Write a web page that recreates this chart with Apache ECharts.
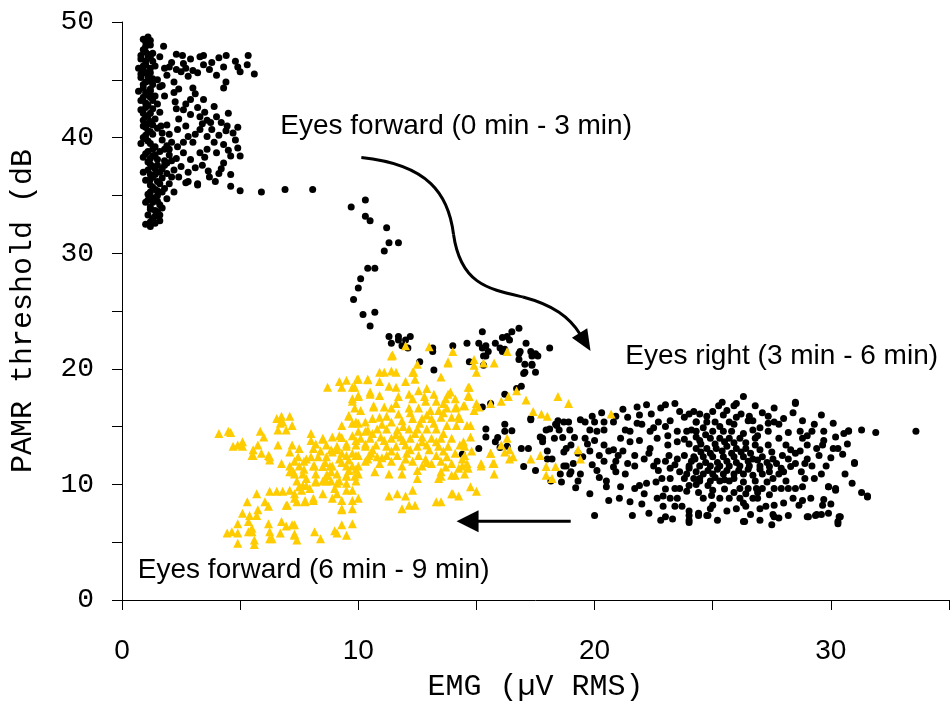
<!DOCTYPE html>
<html>
<head>
<meta charset="UTF-8">
<title>PAMR threshold vs EMG</title>
<script src="https://cdn.jsdelivr.net/npm/echarts@6/dist/echarts.min.js"></script>
</head>
<body style="margin:0">
<div id="chart" style="width:952px;height:707px"></div>
<script>
// eyes forward, 0-3 min (black dots, top left + trail down)
const forwardEarly = [
  [1.1,48.7],[1.0,48.3],[1.2,48.0],[0.9,47.6],[1.1,47.2],[0.8,46.8],[1.3,46.6],[1.0,46.3],[0.9,45.9],[1.2,45.6],
  [0.8,45.2],[1.1,44.9],[1.3,44.6],[0.9,44.3],[1.0,43.9],[1.2,43.5],[0.8,43.2],[1.1,42.8],[1.3,42.5],[0.9,42.1],
  [1.0,41.8],[1.2,41.4],[0.9,41.0],[1.1,40.6],[1.3,40.3],[1.0,39.9],[1.2,39.5],[1.4,39.2],[1.1,38.8],[1.3,38.4],
  [1.5,38.1],[1.2,37.7],[1.4,37.3],[1.6,37.0],[1.3,36.6],[1.5,36.2],[1.2,35.9],[1.4,35.5],[1.1,35.1],[1.3,34.8],
  [1.0,34.4],[1.2,34.0],[1.4,33.7],[1.1,33.3],[1.3,32.9],[1.0,32.5],[1.2,32.3],[1.5,35.0],[1.7,36.5],[1.8,38.0],
  [1.6,38.8],[1.9,39.3],[2.1,39.6],[1.7,39.8],[2.0,38.5],[2.2,37.2],[1.9,36.9],[2.3,38.2],[1.6,34.2],[1.8,35.6],
  [2.0,36.0],[1.5,33.6],[1.4,46.2],[1.5,45.0],[1.6,44.4],[1.4,43.6],[1.5,42.9],[1.6,42.2],[1.4,41.6],[1.5,40.8],
  [1.7,40.4],[0.7,44.0],[0.7,46.0],[0.8,39.5],[0.9,37.0],[1.0,36.3],[0.9,38.3],[1.0,47.9],[1.2,47.0],[1.1,45.3],
  [1.2,44.2],[1.0,43.0],[1.1,41.2],[1.0,40.2],[1.2,36.8],[1.1,34.6],[1.3,33.0],
  [0.9,48.5],[1.2,48.4],[1.0,47.4],[0.8,47.1],[1.3,47.3],[1.1,46.9],[1.0,46.6],[0.9,46.2],[1.2,46.0],[1.0,45.6],
  [0.8,45.5],[1.3,45.1],[1.0,44.8],[0.9,44.6],[1.2,44.0],[1.1,43.7],[0.9,43.5],[1.3,43.2],[1.0,42.6],[0.8,42.4],
  [1.2,42.1],[1.1,41.9],[0.9,41.5],[1.3,41.1],[1.0,40.9],[1.2,40.5],[0.9,40.0],[1.1,39.7],[1.3,39.0],[1.0,38.6],
  [1.2,38.2],[1.4,38.5],[1.1,37.9],[1.3,37.5],[1.5,37.6],[1.1,37.2],[1.4,36.8],[1.2,36.4],[1.6,36.0],[1.3,35.7],
  [1.5,35.4],[1.2,35.3],[1.3,34.4],[1.5,34.5],[1.2,33.8],[1.4,33.2],[1.2,32.7],[1.7,37.3],[1.9,37.8],[2.0,39.0],
  [1.8,39.0],[1.7,35.3],[1.6,33.3],[1.4,32.6],
  [1.76,47.9],[2.56,47.1],[3.45,47.1],[4.41,47.1],[5.34,47.1],[5.3,46.3],[5.0,45.7],[5.6,45.5],[4.3,46.1],[3.8,46.5],
  [3.45,46.3],[4.0,45.4],[4.4,44.8],[4.3,44.3],[2.8,45.3],[3.2,45.6],[2.5,45.7],[2.0,46.1],[1.6,47.0],[2.1,46.5],
  [1.8,46.0],[2.3,45.9],[2.7,46.0],[3.0,45.8],[1.9,45.4],[2.2,44.8],[1.7,44.5],[2.4,44.2],[1.8,43.6],
  [2.3,47.2],[2.9,46.8],[3.3,47.0],[3.7,45.9],[4.8,46.6],[4.1,46.9],[4.9,46.1],[2.6,46.4],
  [3.0,44.3],[2.9,43.3],[2.6,42.4],[3.2,42.6],[3.3,41.8],[3.6,41.5],[4.0,41.8],[4.2,41.3],[4.45,41.0],[4.7,40.4],
  [4.8,39.8],[4.9,39.1],[4.6,38.4],[4.6,36.8],[3.95,36.2],[3.2,36.0],[2.8,36.2],[3.65,37.1],[4.3,37.8],[2.9,38.1],
  [2.7,41.0],[2.35,40.7],[1.9,41.1],[1.65,41.0],[2.2,43.9],[2.25,43.1],[3.45,43.3],[3.75,41.3],[3.3,40.7],[2.8,40.1],
  [3.6,40.1],[3.9,39.6],[3.0,39.6],[3.3,38.7],[3.6,39.0],[4.0,38.7],[2.6,38.7],[2.35,39.2],[2.7,36.1],[3.2,35.9],
  [4.6,35.8],[5.0,35.4],[2.5,37.5],[2.1,38.0],[2.4,36.6],[3.4,37.6],[4.1,40.2],[3.1,40.3],[2.9,42.0],[3.5,42.2],
  [2.0,40.3],[1.8,37.6],[2.2,35.3],[1.9,34.7],[1.7,33.9],[1.6,32.8],[2.1,36.6],[2.6,39.6],[4.3,39.4],[4.5,42.1],
  [3.9,42.7],[2.7,42.9],[3.1,43.8],[3.4,41.2],[3.8,40.7],[4.4,40.6],[4.5,38.9],[3.5,38.3],[3.1,37.4],[2.8,37.0],
  [4.2,37.3],[3.7,36.6],[2.4,41.6],[2.3,42.5],[4.9,40.9],[5.0,38.4],[4.1,36.9],
  [5.9,35.3],[6.9,35.5],[8.07,35.5],[9.7,34.0],[10.3,34.6],[10.3,33.2],[10.5,32.8],[11.2,32.2],[11.3,30.9],[11.1,30.2],
  [11.7,30.9],[10.4,28.7],[10.7,28.7],[10.1,27.8],[10.0,27.0],[9.8,26.0],[10.2,24.7],[10.7,24.9],[10.5,23.7],[11.3,22.8],
  [11.7,22.8],[12.2,22.8],[11.4,22.2],[11.7,22.5],[12.0,22.5],[12.1,21.8],[12.6,20.6],[13.2,19.9],[13.15,21.8],[13.15,21.5],
  [14.0,22.0],[14.6,22.2],[15.25,23.2],[15.1,22.2],[15.25,21.8],[15.4,22.0],[15.5,21.5],[14.7,20.6],[15.3,21.1],[15.8,22.2],
  [16.0,21.8],[16.1,22.7],[16.3,22.8],[16.5,23.2],[16.8,23.5],[16.4,22.5],[16.1,21.5],[17.1,22.2],[16.8,21.3],[16.85,21.5],
  [16.8,20.8],[17.3,21.5],[17.35,21.1],[17.5,21.3],[17.6,21.1],[17.35,20.4],[17.35,20.3],[17.5,19.7],[17.0,19.6],[18.1,21.8],
  [15.3,20.3],[11.85,22.0],[15.4,21.1],[16.2,21.7],[17.05,20.4],[17.05,19.7],[16.9,18.5],[16.7,18.3],[16.2,17.8],[15.6,17.0],
  [15.25,16.7]
];

// eyes right, 3-6 min (black dots, right cluster)
const eyesRight = [
  [17.3,15.7],[16.2,15.2],[15.4,14.8],[15.4,14.1],[15.9,14.05],[16.5,14.65],[15.8,13.7],[16.3,13.3],[15.1,13.1],[14.4,12.6],
  [16.9,13.1],[17.2,13.1],[17.0,11.55],[17.5,11.2],[17.8,14.0],[18.1,14.8],[18.4,15.1],[18.45,15.5],[18.9,15.4],[18.0,12.2],
  [18.6,10.2],[18.15,10.3],[18.8,13.1],[18.7,11.6],[19.0,11.1],[16.0,13.2],[16.2,14.6],[17.7,14.1],[17.8,13.7],[18.3,14.0],
  [18.65,14.05],[19.15,14.05],[19.6,14.0],[20.0,13.8],[19.7,13.5],[20.4,13.4],[20.8,13.0],[21.5,13.7],[21.9,13.8],[22.35,14.6],
  [22.7,15.4],[23.2,15.5],[23.6,16.3],[24.0,16.1],[24.3,15.4],[23.5,14.6],[23.9,14.6],[24.3,14.6],[18.0,12.9],[18.2,12.2],
  [18.7,12.8],[19.0,13.4],[18.8,11.6],[19.1,11.8],[18.55,10.9],[18.95,10.9],[19.4,10.9],[19.3,10.3],[20.1,11.2],[20.5,10.3],
  [20.5,9.8],[20.9,11.1],[21.3,10.9],[21.1,9.8],[21.7,9.65],[21.9,9.9],[22.2,10.1],[22.1,9.2],[21.7,11.6],[21.7,12.5],
  [22.1,12.2],[22.65,12.0],[22.7,11.2],[22.85,10.5],[22.65,8.8],[22.9,9.0],[20.6,8.6],[21.05,8.8],[21.5,8.5],[21.6,7.3],
  [22.3,7.5],[22.9,8.1],[23.4,8.1],[23.7,8.1],[24.0,7.7],[24.0,6.9],[24.4,7.3],[23.4,9.65],[23.6,9.65],[23.9,9.4],
  [23.2,8.8],[23.5,8.8],[23.15,12.5],[23.5,12.2],[23.8,12.5],[24.25,12.2],[23.2,11.4],[23.6,11.1],[24.0,11.4],[23.2,10.5],
  [23.8,10.5],[24.2,10.5],[24.45,10.5],[23.5,13.7],[24.0,13.5],[23.1,13.4],[24.5,13.5],[22.35,13.1],[22.65,14.0],[23.1,14.2],
  [21.8,16.7],[22.2,16.9],[21.9,16.0],[22.4,16.1],[17.3,15.6],[17.95,14.7],[18.35,15.2],[18.7,15.4],[18.5,14.7],[18.95,14.7],
  [19.4,15.6],[19.6,15.4],[20.0,15.4],[20.4,15.4],[20.4,14.7],[20.8,15.4],[19.8,14.7],[20.1,14.6],[21.3,14.7],[21.5,14.6],
  [21.1,14.0],[20.0,7.3],[19.5,12.4],[20.2,12.5],[20.9,12.0],[19.9,11.7],[20.6,12.9],[21.2,12.9],[19.2,9.7],[19.8,9.2],
  [20.2,10.6],[24.4,7.5],[24.75,7.3],
  [26.3,17.6],[26.0,17.0],[25.9,16.8],[25.25,16.8],[25.6,16.4],[25.45,16.0],[25.0,16.3],[24.75,15.9],[24.45,16.1],[24.2,16.3],
  [26.2,16.1],[26.55,15.9],[26.7,15.5],[26.5,15.5],[27.1,16.2],[27.35,15.9],[27.35,15.3],[27.6,15.4],[28.5,17.0],[27.35,14.6],
  [26.8,13.4],[27.35,13.4],[27.8,14.0],[28.1,13.4],[28.5,12.7],[28.7,14.6],[29.0,14.2],[29.2,14.6],[28.8,14.0],[29.0,13.4],
  [29.4,13.1],[29.7,14.6],[29.7,13.8],[29.65,13.4],[30.1,15.3],[30.2,14.1],[30.55,14.4],[30.75,14.6],[30.1,13.1],[30.3,13.1],
  [31.9,14.5],[33.6,14.6],[31.0,11.8],[30.6,10.9],[29.8,11.6],[29.2,11.6],[28.9,11.8],[28.5,11.8],[28.3,11.55],[28.0,11.1],
  [28.75,11.1],[28.9,10.5],[28.8,9.8],[28.5,9.65],[28.2,9.65],[28.1,10.3],[27.9,9.65],[27.6,9.65],[28.4,8.8],[28.8,8.6],
  [29.15,8.8],[28.65,8.2],[29.65,8.2],[29.9,9.8],[30.2,9.65],[31.55,9.0],[29.05,7.2],[29.35,7.3],[29.6,7.4],[29.9,7.5],
  [30.35,7.2],[30.3,6.8],[27.55,7.4],[27.6,7.2],[27.5,6.5],[27.25,8.1],[27.6,8.2],[27.0,7.9],[26.4,8.1],[26.3,8.4],
  [26.7,8.8],[26.9,8.8],[26.15,8.8],[25.7,8.8],[25.3,8.8],[24.95,9.05],[24.6,8.8],[24.8,7.3],[24.0,7.3],
  [26.35,6.8],[24.9,7.9],[26.0,7.9],[26.15,9.65],[26.5,9.65],[26.85,9.65],[27.1,9.65],[25.7,10.3],[25.3,10.3],[24.9,10.3],
  [24.45,10.3],[24.0,9.9],[26.7,10.8],[26.3,10.9],[25.9,10.9],[25.45,10.9],[25.0,10.9],[24.6,10.9],[27.1,10.9],[27.55,10.5],
  [27.8,10.9],[27.4,11.55],[27.0,11.6],[26.55,11.6],[26.15,11.6],[25.7,11.6],[25.3,11.6],[24.9,11.6],[24.45,11.6],[24.0,11.6],
  [24.2,12.4],[24.6,12.4],[25.0,12.4],[25.45,12.4],[25.9,12.4],[26.3,12.4],[26.7,12.2],[27.1,12.4],[27.55,12.2],[27.95,12.5],
  [24.3,13.1],[24.75,13.1],[25.15,13.1],[25.6,13.3],[26.0,13.1],[26.4,13.1],[24.45,13.8],[24.9,14.0],[25.3,14.0],[25.7,14.0],
  [26.15,14.0],[25.0,14.6],[25.45,14.6],[25.8,14.6],[24.75,15.4],[25.1,15.4],[25.7,15.4],[24.1,14.7],[24.3,15.4],[26.7,14.7],
  [26.9,14.2],[26.3,6.8],[24.0,6.7],[29.0,7.2],[29.4,7.4],[30.4,7.2],[30.3,6.6],[31.55,8.9],
  [31.0,11.9],[29.9,9.8],[30.2,9.5],[30.75,14.65],[28.5,17.1],
  [19.9,15.9],[20.3,16.2],[20.9,15.9],[21.4,15.8],[21.2,16.5],[22.8,16.6],[23.0,16.9],[23.4,17.0],[22.0,15.2],[22.5,14.9],
  [21.8,15.3],[23.0,15.0],[23.8,15.8],[24.6,14.9],[25.3,15.0],[25.9,15.2],[26.3,14.4],[26.0,15.8],[27.0,14.9],[27.8,15.2],
  [28.2,14.5],[28.0,15.7],[27.6,16.6],[25.4,17.1],[26.8,16.8],
  [19.3,12.7],[19.8,12.9],[20.4,12.0],[20.8,11.5],[21.4,11.8],[21.0,12.5],[22.3,12.7],[22.5,11.6],[23.0,12.0],[23.4,11.7],
  [24.1,12.0],[24.7,11.9],[25.2,11.9],[25.6,12.0],[26.0,11.9],[26.5,12.0],[26.9,12.1],[27.3,11.9],[27.7,11.8],[28.2,12.2],
  [24.5,12.8],[24.9,12.7],[25.4,12.9],[25.8,12.7],[26.2,12.8],[26.6,12.7],[27.0,13.0],[27.5,12.8],[25.1,13.5],[25.5,13.7],
  [25.9,13.6],[26.4,13.6],[26.8,14.0],[24.3,14.1],[23.8,13.9],[24.7,14.3],
  [24.3,11.1],[24.8,11.2],[25.2,11.3],[25.6,11.2],[26.1,11.2],[26.5,11.3],[27.0,11.3],[27.4,11.1],[27.9,11.4],[23.9,10.9],
  [24.3,10.0],[24.8,9.9],[25.1,10.6],[25.5,10.4],[25.9,10.5],[26.3,10.2],[26.8,10.3],[27.3,10.2],[22.6,10.2],[23.0,9.6],
  [25.0,9.5],[25.5,9.6],[25.9,9.3],[26.4,9.2],[26.9,9.3],[27.4,9.1],[24.4,9.3],[22.0,8.3],[23.0,7.2],[25.0,8.2],
  [25.6,7.7],[26.6,7.4],[28.0,8.4],[27.8,7.1],
  [29.3,10.5],[29.6,10.9],[30.0,12.3],[29.5,12.5],[28.7,12.9],[28.3,13.0],[29.0,12.2],[30.5,12.6],[30.7,13.5],[31.3,14.7],
  [31.3,9.3],[30.9,10.1],[29.7,8.7],[30.0,8.3],[28.2,7.3],[27.0,6.9],[25.2,6.9],[23.3,7.0],[22.8,6.9],[28.8,15.5],
  [29.3,15.2],[29.6,16.0],[28.4,16.2]
];

// eyes forward again, 6-9 min (yellow triangles)
const forwardLate = [
  [4.1,14.4],[4.5,14.6],[4.6,14.5],[4.7,13.3],[4.9,13.4],[5.1,13.3],[5.1,13.7],[5.85,14.6],[6.0,14.1],[5.55,12.5],
  [5.9,12.7],[6.25,12.4],[5.75,13.4],[5.55,13.0],[5.5,12.5],[6.2,12.5],[6.25,12.1],
  [6.55,15.7],[6.75,15.9],[7.1,15.9],[6.7,15.3],[6.8,15.4],[7.2,15.1],[6.6,14.7],[6.95,14.7],[6.6,13.4],
  [7.2,13.4],[7.1,12.8],[7.5,13.1],[7.45,12.4],[6.75,11.8],[7.1,11.6],[7.25,11.1],[7.1,11.1],
  [8.0,14.4],[8.0,13.8],[8.5,14.0],[8.5,13.9],[8.2,13.5],[8.65,13.4],[8.1,13.1],[9.1,13.3],[8.85,13.0],[9.1,13.0],
  [9.5,13.3],[9.3,14.05],[8.0,12.4],[8.3,12.4],[8.65,12.4],[7.7,12.0],[8.15,11.6],[8.5,11.55],[8.9,11.6],[8.85,11.1],
  [9.1,10.9],[9.5,11.6],[9.75,11.6],[9.6,11.2],[10.0,11.6],[10.0,10.9],[9.85,10.7],[9.5,10.7],[9.2,10.3],[8.85,10.3],
  [8.5,10.3],[8.2,10.3],[7.8,10.5],[7.65,9.9],[7.4,10.3],[7.3,9.2],[7.6,9.5],[7.95,9.65],[8.1,8.8],[7.75,8.6],
  [7.4,8.5],[7.0,8.2],[6.8,9.4],[6.55,9.4],[6.25,9.4],[6.05,8.5],[6.2,8.1],[5.7,9.2],[5.3,8.5],[5.75,7.8],
  [5.1,7.5],[5.4,7.3],[5.7,7.3],[4.9,6.6],[5.35,6.8],[6.2,6.6],[5.5,6.2],[4.45,5.8],[4.65,5.9],[4.9,5.8],
  [5.35,5.9],[5.5,5.9],[4.9,4.9],[5.6,5.2],[5.6,4.8],[6.35,5.3],[6.25,5.9],[6.7,5.8],[6.25,5.3],[6.75,6.8],
  [6.95,6.4],[7.3,6.5],[7.2,6.5],[7.3,5.6],[7.4,5.2],[7.3,5.7],[8.15,5.9],[8.4,5.3],[9.0,6.0],[9.1,5.8],
  [9.3,6.5],[9.75,6.6],[9.5,5.6],[9.3,7.9],[9.75,7.9],[9.3,7.8],[10.0,8.8],[9.5,9.5],[9.75,9.5],[9.1,9.2],
  [8.9,8.8],[8.5,9.2],[9.0,9.65],[9.3,8.6],[9.75,8.6],[8.1,8.6],[7.75,8.5],[7.3,8.8],[6.95,8.2],[7.1,9.5],
  [7.5,9.8],[7.8,9.9],[8.2,10.2],[8.65,10.3],[9.1,10.1],[9.5,10.1],[9.9,10.3],[7.3,10.9],[7.65,10.9],[8.2,10.9],
  [8.65,10.8],[9.5,10.8],[7.5,11.6],[7.8,12.2],[8.1,11.6],[8.8,11.6],[9.2,12.2],[9.5,12.5],[9.9,12.5],[10.4,12.2],
  [10.55,12.7],[10.3,13.5],[9.9,13.8],[10.3,14.6],
  [11.3,9.0],[11.65,9.2],[12.0,9.0],[12.3,9.5],[11.85,7.9],[12.15,8.2],[12.4,8.2],[13.3,8.5],[13.5,8.5],[14.0,9.2],
  [14.25,9.0],[14.75,9.8],[15.0,9.4],[13.95,9.2],
  [8.7,18.4],[9.2,18.9],[9.5,19.0],[9.3,18.4],[9.75,18.4],[10.0,19.1],[10.4,19.1],[10.9,19.7],[11.1,19.7],[11.4,19.8],
  [11.6,19.7],[11.4,21.1],[10.9,18.9],[11.3,18.5],[11.6,18.4],[12.0,18.9],[12.35,19.7],[12.4,19.1],[12.5,20.4],[13.0,21.9],
  [13.8,20.6],[13.5,19.3],[9.75,17.4],[10.0,17.7],[10.5,18.0],[10.9,17.7],[9.85,16.6],[10.1,16.4],[9.6,15.9],[9.75,15.3],
  [10.0,15.3],[10.3,15.4],[10.6,15.7],[10.65,16.7],[11.1,16.7],[11.4,16.6],[11.7,17.6],[12.15,17.8],[12.3,17.4],[12.55,18.1],
  [12.9,18.3],[13.2,17.8],[12.85,17.2],[13.3,17.2],[13.7,17.4],[13.9,18.0],[14.1,17.4],[14.45,16.8],[14.7,18.4],[14.7,17.6],
  [15.1,16.7],[14.1,16.6],[13.75,16.6],[13.4,16.4],[13.05,16.4],[12.55,16.6],[12.15,16.6],[11.7,16.1],[11.2,15.9],[10.9,15.8],
  [11.4,15.4],[11.85,15.5],[12.3,15.7],[12.7,15.7],[13.1,15.7],[13.5,15.8],[13.95,15.8],[14.25,15.9],[14.6,15.1],[14.15,15.1],
  [13.75,15.1],[13.3,14.8],[12.9,14.8],[12.5,14.8],[12.15,14.8],[11.65,14.7],[11.2,14.8],[10.8,14.8],[10.4,14.7],[10.0,14.6],
  [9.75,14.2],[10.1,14.0],[10.5,14.0],[10.95,14.1],[11.4,14.0],[11.8,14.1],[12.2,14.0],[12.7,14.1],[13.1,14.0],[13.5,14.0],
  [13.95,14.0],[14.45,13.7],[14.75,14.1],[14.3,13.4],[13.8,13.3],[13.4,13.3],[12.9,13.4],[12.5,13.3],[12.0,13.4],[11.6,13.3],
  [11.2,13.3],[10.75,13.4],[10.3,13.3],[9.9,13.4],[9.5,13.5],[9.2,14.2],[8.9,14.1],[9.3,15.1],[9.3,12.7],[9.75,12.7],
  [10.0,12.5],[10.45,12.5],[10.8,12.4],[11.2,12.5],[11.65,12.5],[12.05,12.7],[12.55,12.5],[12.85,12.2],[13.3,12.5],[13.75,12.4],
  [14.1,12.7],[14.5,12.5],[14.8,12.9],[10.9,11.8],[11.4,12.0],[11.85,11.6],[12.3,12.0],[12.7,11.6],[13.1,11.8],[13.5,12.0],
  [13.95,11.8],[14.4,11.6],[10.7,11.1],[11.3,10.9],[11.85,10.9],[12.5,11.2],[13.5,11.1],[14.1,10.8],[12.5,10.5],[13.5,10.7],
  [14.65,11.4],[15.2,11.8],[15.7,11.8],[15.6,12.7],[9.9,15.4],[9.6,15.95],[9.95,19.1],[10.4,19.05],[9.85,18.4],[9.75,17.2],
  [10.0,17.6],[10.5,17.8],[10.65,16.8],
  [11.45,21.2],[12.0,22.0],[14.0,21.5],[16.3,21.5],[13.8,20.5],[14.9,20.8],[14.9,20.3],[15.3,20.5],[15.75,20.5],[15.0,19.7],
  [12.3,19.7],[14.65,18.4],[14.65,17.7],[15.0,17.0],[15.6,17.0],[16.05,17.2],[16.35,17.6],[16.7,18.1],[17.1,17.3],[18.45,17.6],
  [18.9,17.0],[17.4,16.3],[17.75,16.1],[18.0,15.9],[13.8,17.8],[14.15,16.7],[14.5,16.8],[14.9,16.4],[14.3,15.7],[14.75,15.1],
  [14.5,13.3],[14.4,12.2],[14.6,11.8],[14.25,11.4],[13.95,10.8],[14.5,10.9],[13.4,10.5],[16.3,14.0],[16.05,13.4],[16.4,13.0],
  [16.2,12.8],[15.6,12.7],[16.55,12.4],[16.4,12.2],[17.3,12.2],[17.7,12.5],[17.95,11.55],[18.35,11.55],[17.95,10.8],[18.2,10.5],
  [19.3,13.0],[19.4,12.2],[15.75,11.8],[15.75,10.9],[15.2,11.6],[20.7,16.1],
  [11.0,15.2],[11.9,15.0],[12.6,15.3],[13.2,15.3],[13.6,14.4],[12.4,14.4],[11.6,14.3],[10.6,14.4],[11.1,13.8],[11.9,13.8],
  [12.7,13.7],[13.3,13.7],[10.6,13.0],[11.4,12.9],[12.2,13.0],[13.0,13.0],[13.6,12.9],[10.3,12.0],[11.0,12.3],[12.0,12.2],
  [12.9,11.9],[13.7,11.5],[12.2,16.2],[12.9,16.0],[13.6,16.2],[11.6,17.0],[12.8,17.6],[13.6,17.0],[8.9,12.8],[8.4,12.9],
  [8.6,11.9],[9.3,11.9],[9.6,12.1],[8.7,10.8],[9.9,11.3],[7.7,11.3],[7.3,12.0]
];

const xLabels = [0, 10, 20, 30];
const yLabels = [0, 10, 20, 30, 40, 50];

// annotations, anchored in data units (left edge, vertical middle)
const notes = [
  { text: 'Eyes forward (0 min - 3 min)', at: [6.7, 40.95] },
  { text: 'Eyes right (3 min - 6 min)', at: [21.3, 21.1] },
  { text: 'Eyes forward (6 min - 9 min)', at: [0.67, 2.6] }
];
// curved arrow: 3 cubic segments, then tip
const curvePts = [[10.13,38.28],[12.98,37.67],[13.82,35.09],[14.03,31.64],[14.33,27.33],[15.50,26.90],
  [16.97,26.21],[18.24,25.52],[18.95,24.48],[19.41,22.93]];
const curveTip = [19.83, 21.55];
const backArrow = [[18.99, 6.81], [14.16, 6.81]];

const chart = echarts.init(document.getElementById('chart'));
const mono = '"Liberation Mono", "DejaVu Sans Mono", monospace';
const sans = '"Liberation Sans", Arial, sans-serif';

chart.setOption({
  animation: false,
  grid: { left: 121, top: 22, width: 833, height: 580 },
  xAxis: {
    type: 'value', min: 0, max: 35, interval: 5,
    name: 'EMG (µV RMS)', nameLocation: 'middle', nameGap: 72,
    nameTextStyle: { fontFamily: mono, fontSize: 30, color: '#000' },
    axisLine: { lineStyle: { color: '#000', width: 1 } },
    axisTick: { length: 10, lineStyle: { color: '#000' } },
    splitLine: { show: false },
    axisLabel: {
      color: '#000', fontFamily: sans, fontSize: 28, margin: 37,
      formatter: v => xLabels.includes(v) ? String(v) : ''
    }
  },
  yAxis: {
    type: 'value', min: 0, max: 50, interval: 5,
    name: 'PAMR threshold (dB', nameLocation: 'middle', nameGap: 84,
    nameTextStyle: { fontFamily: mono, fontSize: 30, color: '#000' },
    axisLine: { show: true, lineStyle: { color: '#000', width: 1 } },
    axisTick: { show: true, length: 10, lineStyle: { color: '#000' } },
    splitLine: { show: false },
    axisLabel: {
      color: '#000', fontFamily: mono, fontSize: 28, margin: 28,
      formatter: v => yLabels.includes(v) ? String(v) : ''
    }
  },
  series: [
    { type: 'scatter', data: forwardEarly, symbol: 'circle', symbolSize: 7, itemStyle: { color: '#000', opacity: 1 } },
    { type: 'scatter', data: eyesRight, symbol: 'circle', symbolSize: 7, itemStyle: { color: '#000', opacity: 1 } },
    { type: 'scatter', data: forwardLate, symbol: 'triangle', symbolSize: 9, itemStyle: { color: '#ffcc00', opacity: 1 } }
  ]
});

const px = p => chart.convertToPixel({ gridIndex: 0 }, p);

function head(tip, from, len, half) {
  const dx = tip[0] - from[0], dy = tip[1] - from[1];
  const d = Math.hypot(dx, dy), ux = dx / d, uy = dy / d;
  const bx = tip[0] - ux * len, by = tip[1] - uy * len;
  return [tip, [bx - uy * half, by + ux * half], [bx + uy * half, by - ux * half]];
}

const graphics = [];
notes.forEach(n => {
  const p = px(n.at);
  graphics.push({
    type: 'text', x: p[0], y: p[1], z: 50,
    style: { text: n.text, fontSize: 28, fontFamily: sans, fill: '#000', verticalAlign: 'middle' }
  });
});

const c = curvePts.map(px);
for (let i = 0; i + 3 < c.length; i += 3) {
  graphics.push({
    type: 'bezierCurve', z: 50,
    shape: { x1: c[i][0], y1: c[i][1], cpx1: c[i+1][0], cpy1: c[i+1][1], cpx2: c[i+2][0], cpy2: c[i+2][1], x2: c[i+3][0], y2: c[i+3][1] },
    style: { stroke: '#000', lineWidth: 3, fill: null }
  });
}
const tip1 = px(curveTip);
graphics.push({ type: 'polygon', z: 50, shape: { points: head(tip1, c[c.length - 2], 21, 9) }, style: { fill: '#000' } });

const a0 = px(backArrow[0]), a1 = px(backArrow[1]);
graphics.push({ type: 'line', z: 50, shape: { x1: a0[0], y1: a0[1], x2: a1[0] + 20, y2: a1[1] }, style: { stroke: '#000', lineWidth: 3 } });
graphics.push({ type: 'polygon', z: 50, shape: { points: head(a1, a0, 22, 11) }, style: { fill: '#000' } });

chart.setOption({ graphic: graphics });
</script>
</body>
</html>
